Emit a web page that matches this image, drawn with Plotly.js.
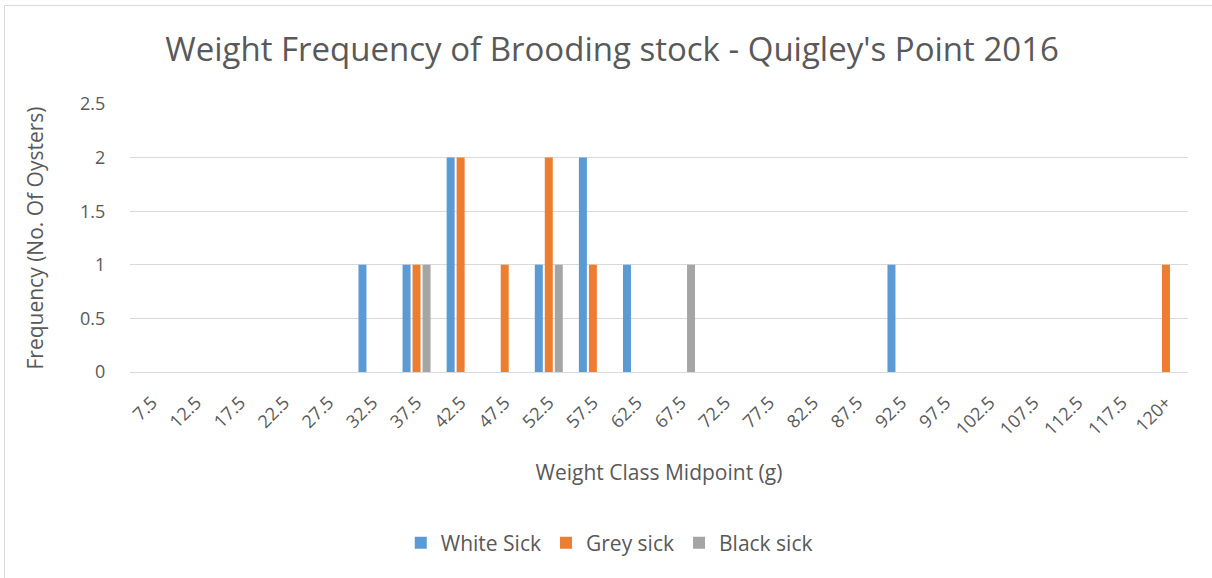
<!DOCTYPE html>
<html>
<head>
<meta charset="utf-8">
<script src="https://cdn.plot.ly/plotly-3.0.1.min.js"></script>
<style>
html,body{margin:0;padding:0;background:#fff;}
#chart{width:1212px;height:578px;}
</style>
</head>
<body>
<div id="chart"></div>
<script>
const categories = ["7.5","12.5","17.5","22.5","27.5","32.5","37.5","42.5","47.5","52.5","57.5","62.5","67.5","72.5","77.5","82.5","87.5","92.5","97.5","102.5","107.5","112.5","117.5","120+"];
const whiteSick = [0,0,0,0,0,1,1,2,0,1,2,1,0,0,0,0,0,1,0,0,0,0,0,0];
const greySick  = [0,0,0,0,0,0,1,2,1,2,1,0,0,0,0,0,0,0,0,0,0,0,0,1];
const blackSick = [0,0,0,0,0,0,1,0,0,1,0,0,1,0,0,0,0,0,0,0,0,0,0,0];
const seriesNames = ["White Sick","Grey sick","Black sick"];
const seriesColors = ["#5B9BD5","#ED7D31","#A5A5A5"];

const FONT = "Open Sans, Liberation Sans, sans-serif";
const TXT = "#595959";

const traces = [whiteSick, greySick, blackSick].map((vals, i) => ({
  type: "bar",
  name: seriesNames[i],
  x: categories,
  y: vals,
  marker: {color: seriesColors[i]},
  hoverinfo: "x+y+name"
}));

const layout = {
  width: 1212,
  height: 578,
  margin: {l: 130, r: 24, t: 104, b: 206},
  paper_bgcolor: "#ffffff",
  plot_bgcolor: "#ffffff",
  barmode: "group",
  bargap: 0.32,
  bargroupgap: 0.2,
  title: {
    text: "Weight Frequency of Brooding stock - Quigley's Point 2016",
    font: {family: FONT, size: 33, color: TXT},
    x: 0.505, xref: "container", xanchor: "center",
    y: 0.915, yref: "container", yanchor: "middle"
  },
  xaxis: {
    type: "category",
    tickangle: -45,
    tickfont: {family: FONT, size: 18, color: TXT},
    showgrid: false,
    showline: true,
    linecolor: "#d9d9d9",
    linewidth: 1,
    ticks: "outside",
    ticklen: 12,
    tickcolor: "rgba(0,0,0,0)",
    title: {text: "Weight Class Midpoint (g)", font: {family: FONT, size: 21, color: TXT}, standoff: 26},
    fixedrange: true
  },
  yaxis: {
    range: [0, 2.5],
    dtick: 0.5,
    tickfont: {family: FONT, size: 18, color: TXT},
    showgrid: true,
    gridcolor: "#d9d9d9",
    gridwidth: 1,
    zeroline: false,
    showline: false,
    ticks: "outside",
    ticklen: 20,
    tickcolor: "rgba(0,0,0,0)",
    title: {text: "Frequency (No. Of Oysters)", font: {family: FONT, size: 21, color: TXT}, standoff: 30},
    fixedrange: true
  },
  showlegend: true,
  legend: {
    orientation: "h",
    x: 0.453, xanchor: "center",
    y: -0.638, yanchor: "middle",
    font: {family: FONT, size: 21, color: TXT},
    itemwidth: 30,
    traceorder: "normal"
  },
  shapes: [{
    type: "rect", xref: "paper", yref: "paper",
    x0: (4.5 - 130) / 1058, x1: (1230 - 130) / 1058,
    y0: (372 - 600) / 268, y1: (372 - 5.5) / 268,
    line: {color: "#d9d9d9", width: 1}, fillcolor: "rgba(0,0,0,0)", layer: "below"
  }]
};

Plotly.newPlot("chart", traces, layout, {displayModeBar: false, staticPlot: true});
</script>
</body>
</html>
